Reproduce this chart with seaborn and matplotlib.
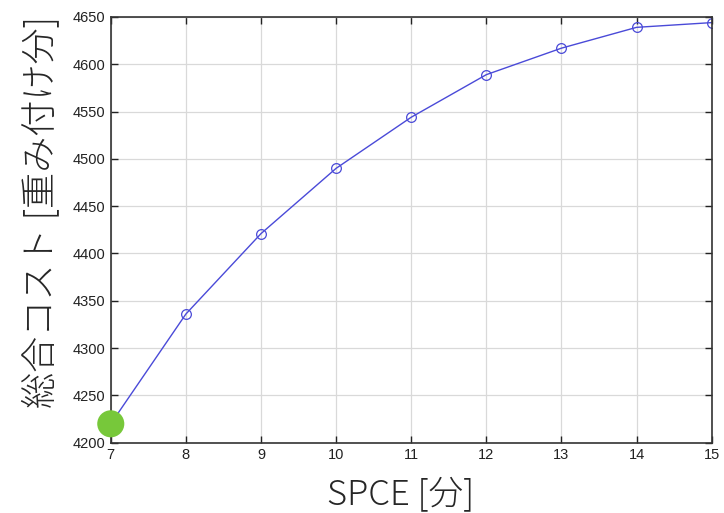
import matplotlib
matplotlib.use("Agg")
import matplotlib.pyplot as plt
import seaborn as sns
import pandas as pd

# データ
spce = [7, 8, 9, 10, 11, 12, 13, 14, 15]
total_cost = [4220, 4336, 4421, 4490, 4544, 4589, 4617, 4639, 4644]
best_x = [7]
best_y = [4220]

df = pd.DataFrame({"spce": spce, "cost": total_cost})
best_df = pd.DataFrame({"spce": best_x, "cost": best_y})

sns.set_style("whitegrid")
plt.rcParams['font.family'] = ['Liberation Sans', 'Noto Sans CJK JP', 'DejaVu Sans']

fig = plt.figure(figsize=(7.24, 5.13), dpi=100)
ax = fig.add_axes([0.153, 0.137, 0.83, 0.83])

sns.lineplot(data=df, x="spce", y="cost", ax=ax, color="#4a4ad8", lw=1.0,
             marker="o", markersize=7, markerfacecolor="none",
             markeredgecolor="#4a4ad8", markeredgewidth=0.9)
sns.scatterplot(data=best_df, x="spce", y="cost", ax=ax, color="#77c83a",
                s=380, edgecolor="none", zorder=5, clip_on=False)

ax.set_xlim(7, 15)
ax.set_ylim(4200, 4650)
ax.set_xticks(range(7, 16))
ax.set_yticks(range(4200, 4651, 50))
ax.grid(True, color="#d9d9d9", lw=0.9)
for s in ax.spines.values():
    s.set_color("#333333")
    s.set_linewidth(1.2)
ax.tick_params(direction="in", length=5, width=1, colors="#222222",
               labelsize=10.5, top=True, right=True, bottom=True, left=True,
               pad=4)

ax.set_xlabel("SPCE [分]", fontsize=25, family=['Noto Sans CJK JP'],
              weight="light", va="center")
ax.set_ylabel("総合コスト [重み付け分]", fontsize=26, family=['Noto Sans CJK JP'],
              weight="light", va="center")
ax.xaxis.set_label_coords(0.483, -0.12)
ax.yaxis.set_label_coords(-0.115, 0.542)

fig.savefig("out.png", dpi=100)
